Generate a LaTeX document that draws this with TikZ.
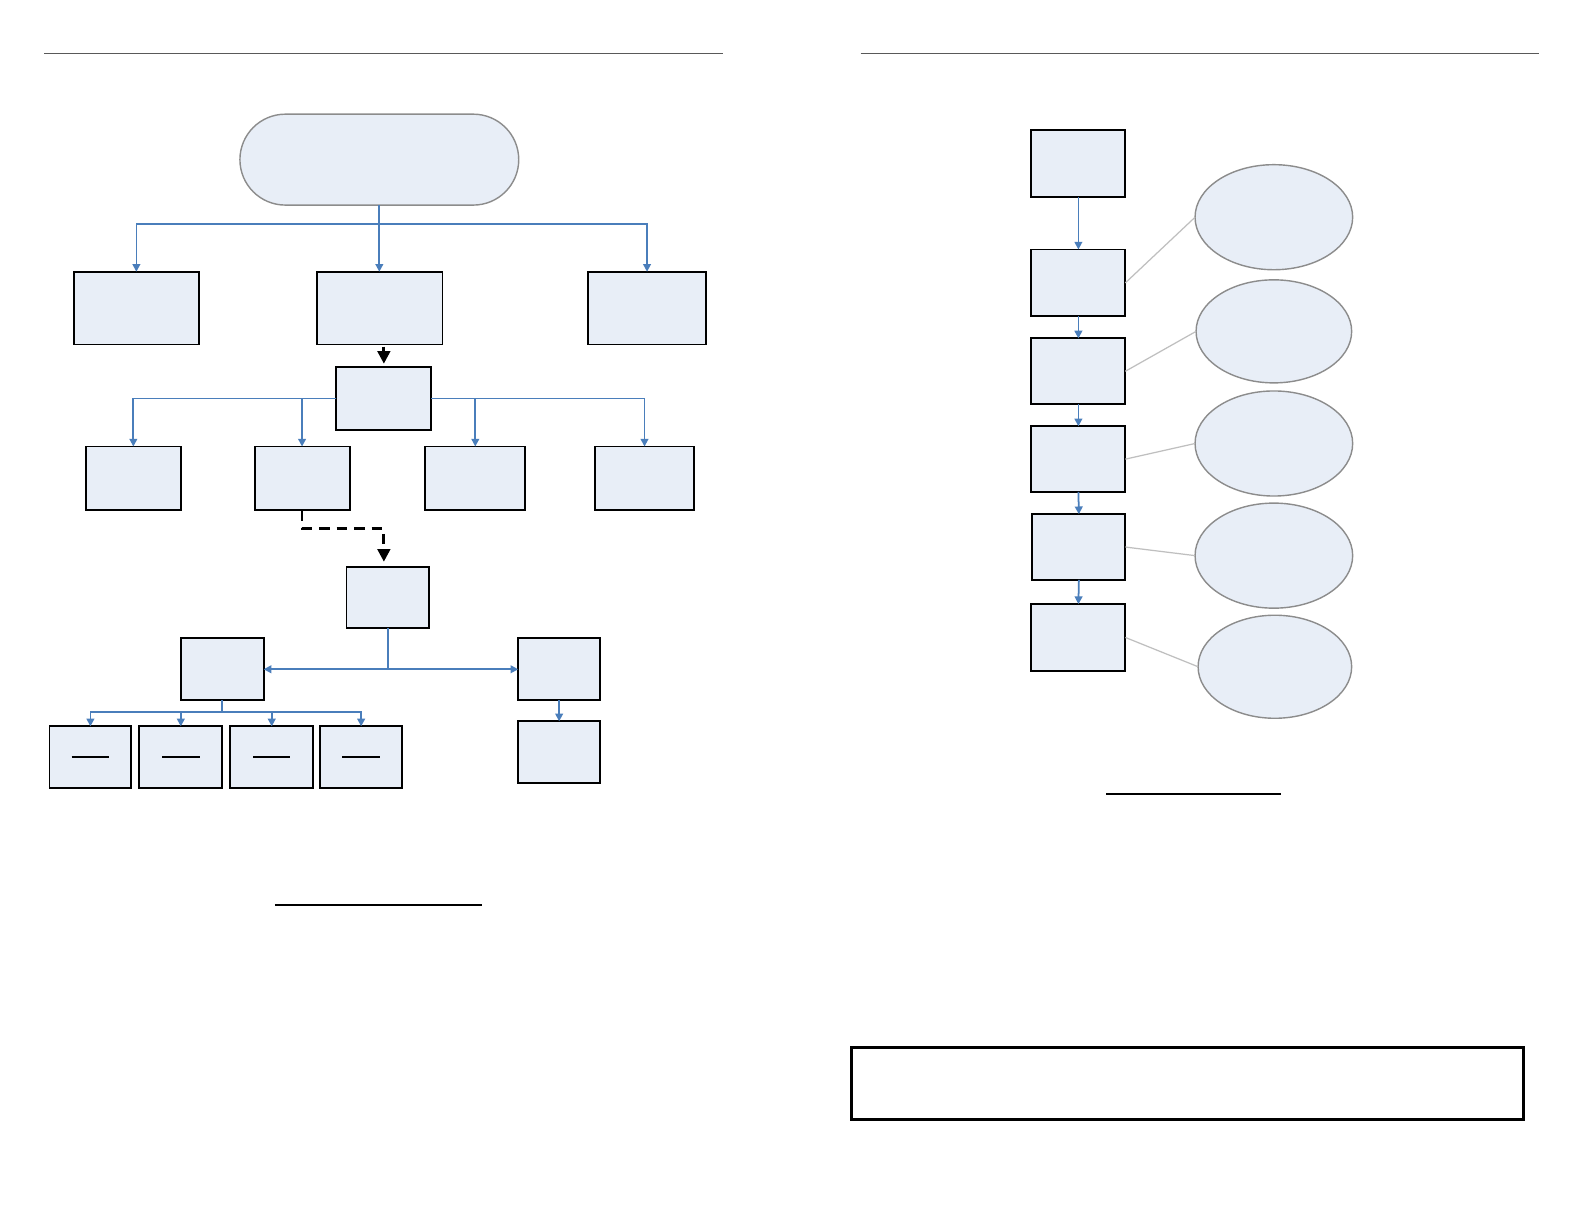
\documentclass[tikz,border=0pt]{standalone}
\usetikzlibrary{arrows.meta,shapes.geometric,calc}
\definecolor{boxfill}{HTML}{E8EEF7}
\definecolor{lineblue}{HTML}{4A7EBB}
\definecolor{ellgray}{HTML}{8C8C8C}
\definecolor{lightgray}{HTML}{BFBFBF}
\newcommand\bx[5]{\node[boxst, minimum width={(#4-#2)*0.10102mm}, minimum height={(#5-#3)*0.10102mm}] (#1) at ({(#2+#4)/2},{(#3+#5)/2}) {};}
\newcommand\el[5]{\node[ellst, minimum width={2*#4*0.10102mm}, minimum height={2*#5*0.10102mm}] (#1) at (#2,#3) {};}
\tikzset{
  boxst/.style={draw=black, line width=0.55pt, fill=boxfill, rectangle, inner sep=0pt, outer sep=0pt},
  ellst/.style={draw=ellgray, line width=0.4pt, fill=boxfill, ellipse, inner sep=0pt, outer sep=0pt},
  barrow/.style={draw=lineblue, line width=0.5pt, -{Triangle[length=2.2pt,width=2.2pt]}},
  bline/.style={draw=lineblue, line width=0.5pt},
  karrow/.style={draw=black, line width=0.8pt, -{Triangle[length=3.6pt,width=3.6pt]}},
  darrow/.style={draw=black, line width=0.8pt, dash pattern=on 3pt off 2pt, -{Triangle[length=3.6pt,width=3.6pt]}},
  grayline/.style={draw=lightgray, line width=0.35pt},
  rule/.style={draw=black, line width=0.6pt},
  header/.style={draw=black!65, line width=0.4pt},
}
\begin{document}
\begin{tikzpicture}[x=0.10102mm, y=-0.10102mm]
\useasboundingbox[fill=white] (0,0) rectangle (1568,1212);
% headers
\draw[header] (44,53) coordinate (hl1) -- (716,53) coordinate (hl2);
\draw[header] (852,53) coordinate (hr1) -- (1523,53) coordinate (hr2);
% ---- left page ----
\node[draw=ellgray, line width=0.4pt, fill=boxfill, rectangle, rounded corners={45*0.10102mm}, minimum width={276*0.10102mm}, minimum height={90*0.10102mm}, inner sep=0pt, outer sep=0pt] (st) at (375.5,158) {};
\bx{b1}{73}{269}{197}{341}
\bx{b2}{314}{269}{438}{341}
\bx{b3}{582}{269}{699}{341}
\bx{m}{333}{363}{427}{426}
\bx{c1}{85}{442}{179}{505}
\bx{c2}{252}{442}{346}{505}
\bx{c3}{421}{442}{520}{505}
\bx{c4}{589}{442}{687}{505}
\bx{n}{343}{561}{425}{622}
\bx{L}{179}{632}{261}{693}
\bx{R}{513}{632}{594}{693}
\bx{R2}{513}{714}{594}{775}
\bx{d1}{49}{719}{130}{780}
\bx{d2}{138}{719}{220}{780}
\bx{d3}{228}{719}{310}{780}
\bx{d4}{317}{719}{398}{780}
\foreach \d in {d1,d2,d3,d4}{
  \draw[line width=0.6pt] ($(\d.center)+(-18.5,0)$) -- ($(\d.center)+(18.5,0)$);
}
\draw[barrow] (st.south) -- (st.south |- b2.north);
\draw[barrow] (st.south) -- ++(0,19) -| (b1.north);
\draw[barrow] (st.south) -- ++(0,19) -| (b3.north);
\draw[karrow] ($(m.north |- b2.south)+(0,2)$) -- ($(m.north)+(0,-3)$);
\draw[barrow] (m.west) -| (c1.north);
\draw[barrow] (m.west) -| (c2.north);
\draw[barrow] (m.east) -| (c3.north);
\draw[barrow] (m.east) -| (c4.north);
\draw[darrow] (c2.south) -- ++(0,18) -| ($(n.north)+(-4,-5)$);
\draw[barrow] (n.south) |- (L.east);
\draw[barrow] (n.south) |- (R.west);
\draw[barrow] (L.south) -- ++(0,12) -| (d1.north);
\draw[barrow] (L.south) -- ++(0,12) -| (d2.north);
\draw[barrow] (L.south) -- ++(0,12) -| (d3.north);
\draw[barrow] (L.south) -- ++(0,12) -| (d4.north);
\draw[barrow] (R.south) -- (R2.north);
\draw[rule] (272,896) coordinate (u1) -- (477,896) coordinate (u2);
% ---- right page ----
\bx{r1}{1021}{129}{1114}{195}
\bx{r2}{1021}{247}{1114}{313}
\bx{r3}{1021}{335}{1114}{400}
\bx{r4}{1021}{422}{1114}{487}
\bx{r5}{1022}{509}{1114}{574}
\bx{r6}{1021}{598}{1114}{664}
\el{e1}{1261}{215}{78}{52}
\el{e2}{1261}{328}{77}{51}
\el{e3}{1261}{439}{78}{52}
\el{e4}{1261}{550}{78}{52}
\el{e5}{1262}{660}{76}{51}
\draw[barrow] (r1.south) -- (r2.north);
\draw[barrow] (r2.south) -- (r3.north);
\draw[barrow] (r3.south) -- (r4.north);
\draw[barrow] (r4.south) -- (r5.north);
\draw[barrow] (r5.south) -- (r6.north);
\draw[grayline] (r2.east) -- (e1.west);
\draw[grayline] (r3.east) -- (e2.west);
\draw[grayline] (r4.east) -- (e3.west);
\draw[grayline] (r5.east) -- (e4.west);
\draw[grayline] (r6.east) -- (e5.west);
\draw[rule] (1095,786) coordinate (u3) -- (1268,786) coordinate (u4);
\node[draw=black, line width=0.7pt, fill=white, rectangle, inner sep=0pt, minimum width={665*0.10102mm}, minimum height={71*0.10102mm}] (note) at (1175.5,1072.5) {};
\end{tikzpicture}
\end{document}
